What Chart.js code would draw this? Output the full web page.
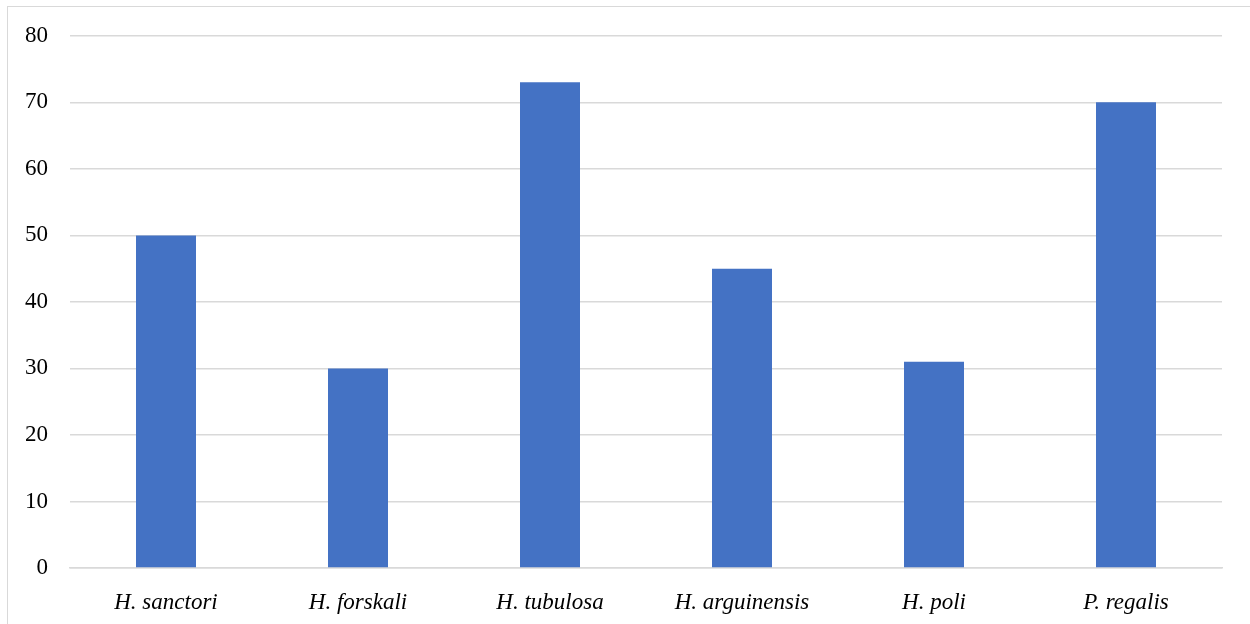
<!DOCTYPE html>
<html>
<head>
<meta charset="utf-8">
<script src="https://cdn.jsdelivr.net/npm/chart.js@4"></script>
<style>
  body { margin: 0; background: #fff; }
  #frame { position: absolute; left: 7px; top: 6px; width: 1250px; height: 640px; border: 1px solid #d9d9d9; box-sizing: border-box; }
  #wrap { position: absolute; left: 0; top: 0; width: 1250px; height: 624px; }
</style>
</head>
<body>
<div id="frame"></div>
<div id="wrap"><canvas id="myChart" width="1250" height="624"></canvas></div>
<script>
const species = ['H. sanctori', 'H. forskali', 'H. tubulosa', 'H. arguinensis', 'H. poli', 'P. regalis'];
const counts = [50, 30, 73, 45, 31, 70];
const yTicks = [0, 10, 20, 30, 40, 50, 60, 70, 80];

const ctx = document.getElementById('myChart').getContext('2d');
const gridColor = '#d9d9d9';
const serif = '"Liberation Serif", "Times New Roman", serif';

const chart = new Chart(ctx, {
    type: 'bar',
    data: {
        labels: species,
        datasets: [{
            data: counts,
            backgroundColor: '#4472c4',
            borderWidth: 0,
            barPercentage: 0.625,
            categoryPercentage: 0.5
        }]
    },
    options: {
        responsive: false,
        animation: false,
        layout: { padding: { left: 0, right: 28, top: 35, bottom: 0 } },
        plugins: { legend: { display: false }, tooltip: { enabled: false } },
        scales: {
            x: {
                grid: { display: false },
                border: { color: gridColor, width: 1.5 },
                ticks: {
                    color: '#000',
                    padding: 13,
                    font: { family: serif, size: 23, style: 'italic' }
                },
                afterFit: (scale) => { scale.height = 56; }
            },
            y: {
                min: 0,
                max: 80,
                afterBuildTicks: (scale) => { scale.ticks = yTicks.map(v => ({ value: v })); },
                grid: { color: gridColor, lineWidth: 1.5, drawTicks: false },
                border: { display: false },
                ticks: {
                    color: '#000',
                    padding: 22,
                    font: { family: serif, size: 23 }
                },
                afterFit: (scale) => { scale.width = 70; }
            }
        }
    }
});
</script>
</body>
</html>
